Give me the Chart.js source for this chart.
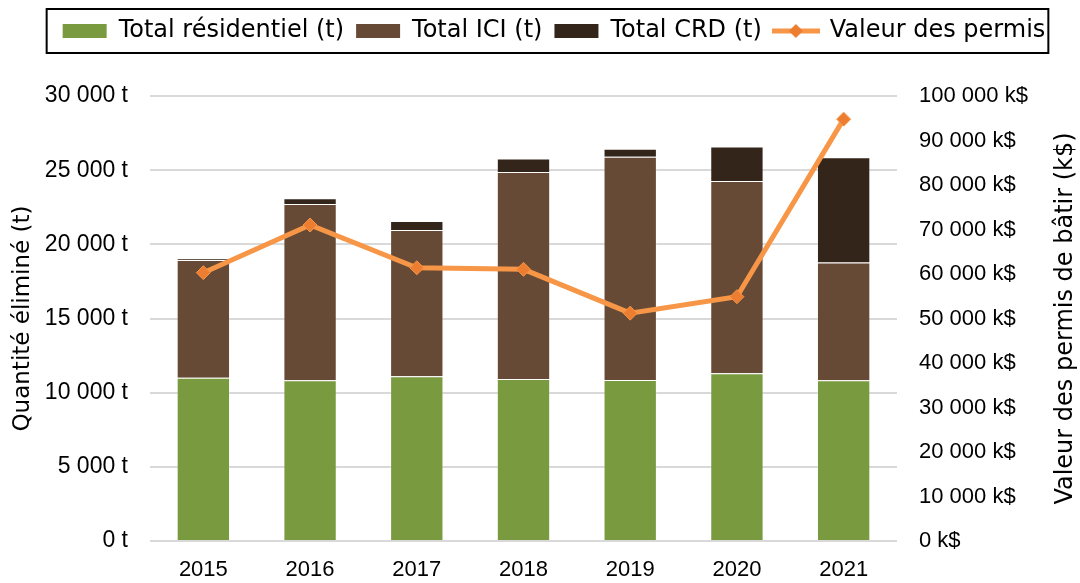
<!DOCTYPE html>
<html>
<head>
<meta charset="utf-8">
<script src="https://cdn.jsdelivr.net/npm/chart.js@4.4.1/dist/chart.umd.min.js"></script>
<style>
  html, body { margin: 0; padding: 0; background: #fff; }
  #wrap { width: 1080px; height: 583px; }
</style>
</head>
<body>
<div id="wrap"><canvas id="chart" width="1080" height="583"></canvas></div>
<script>
// values
const years = ["2015", "2016", "2017", "2018", "2019", "2020", "2021"];
const residentiel = [11000, 10840, 11100, 10920, 10860, 11310, 10840];
const ici = [7950, 11880, 9870, 13960, 15050, 12960, 7930];
const crd = [100, 390, 610, 900, 540, 2320, 7100];
const permis = [60300, 71000, 61400, 61050, 51200, 54900, 94800];

const GREEN = "#7A9A40", BROWN = "#674A36", DARK = "#33251A";
const LINE = "#F79646", MARK = "#ED7D31";
const TICK_FONT = "'Liberation Sans', Arial, sans-serif";
const TITLE_FONT = "'DejaVu Sans', Verdana, sans-serif";
const LEGEND_SHIFT = 14;

const fmt = (v) => String(v).replace(/\B(?=(\d{3})+(?!\d))/g, " ");

// legend symbol for the line series: line with a diamond
function lineSymbol() {
  const c = document.createElement("canvas");
  c.width = 48; c.height = 16;
  const g = c.getContext("2d");
  g.strokeStyle = LINE; g.lineWidth = 5;
  g.beginPath(); g.moveTo(0, 8); g.lineTo(48, 8); g.stroke();
  g.fillStyle = MARK;
  g.beginPath(); g.moveTo(24, 1); g.lineTo(31, 8); g.lineTo(24, 15); g.lineTo(17, 8); g.closePath(); g.fill();
  return c;
}

const legendSpace = {
  id: "legendSpace",
  beforeInit(chart) {
    const lg = chart.legend;
    const fit = lg.fit, draw = lg.draw;
    lg.fit = function () { fit.call(this); this.height = 89; };
    lg.draw = function () {
      this.ctx.save(); this.ctx.translate(LEGEND_SHIFT, 0);
      draw.call(this);
      this.ctx.restore();
    };
  }
};

const legendBorder = {
  id: "legendBorder",
  afterDraw(chart) {
    const hb = chart.legend.legendHitBoxes;
    if (!hb || !hb.length) return;
    const l = Math.min(...hb.map((h) => h.left)) - 16 + LEGEND_SHIFT;
    const r = Math.max(...hb.map((h) => h.left + h.width)) + 3 + LEGEND_SHIFT;
    const mid = hb[0].top + hb[0].height / 2;
    const ctx = chart.ctx;
    ctx.save(); ctx.strokeStyle = "#000"; ctx.lineWidth = 2;
    ctx.strokeRect(l, mid - 22, r - l, 44);
    ctx.restore();
  }
};

// right title reads bottom-to-top like the left one
const rightTitle = {
  id: "rightTitle",
  afterDraw(chart) {
    const a = chart.chartArea, ctx = chart.ctx;
    ctx.save();
    ctx.translate(1066, (a.top + a.bottom) / 2);
    ctx.rotate(-Math.PI / 2);
    ctx.font = "24px " + TITLE_FONT;
    ctx.fillStyle = "#000"; ctx.textAlign = "center"; ctx.textBaseline = "middle";
    ctx.fillText("Valeur des permis de bâtir (k$)", 0, 0);
    ctx.restore();
  }
};

const sym = lineSymbol();

new Chart(document.getElementById("chart"), {
  data: {
    labels: years,
    datasets: [
      { type: "line", label: "Valeur des permis", data: permis, yAxisID: "y1", order: 0,
        borderColor: LINE, borderWidth: 5, pointStyle: "rectRot", pointRadius: 7,
        pointBackgroundColor: MARK, pointBorderColor: LINE, pointBorderWidth: 1, tension: 0 },
      { type: "bar", label: "Total résidentiel (t)", data: residentiel, backgroundColor: GREEN, order: 1 },
      { type: "bar", label: "Total ICI (t)", data: ici, backgroundColor: BROWN, order: 1 },
      { type: "bar", label: "Total CRD (t)", data: crd, backgroundColor: DARK, order: 1 }
    ]
  },
  options: {
    responsive: false,
    animation: false,
    layout: { padding: { top: 7 } },
    datasets: { bar: { barPercentage: 0.5, categoryPercentage: 1, borderWidth: 1, borderColor: "rgba(255,255,255,0.2)" } },
    plugins: {
      tooltip: { enabled: false },
      legend: {
        position: "top",
        labels: {
          color: "#000", font: { family: TITLE_FONT, size: 24 }, padding: 12,
          usePointStyle: true, pointStyleWidth: 44, boxHeight: 14,
          generateLabels(chart) {
            const order = [1, 2, 3, 0];
            return order.map((i) => {
              const ds = chart.data.datasets[i];
              return {
                text: ds.label, datasetIndex: i, lineWidth: 0,
                fillStyle: ds.backgroundColor, strokeStyle: ds.backgroundColor,
                pointStyle: ds.type === "line" ? sym : "rect", fontColor: "#000"
              };
            });
          }
        }
      }
    },
    scales: {
      x: {
        stacked: true,
        grid: { display: false },
        border: { display: false },
        ticks: { color: "#000", font: { family: TICK_FONT, size: 22 }, padding: 8 },
        afterFit(s) { s.height = 42; }
      },
      y: {
        stacked: true, min: 0, max: 30000,
        ticks: { stepSize: 5000, color: "#000", font: { family: TICK_FONT, size: 23 }, padding: 22,
          callback: (v) => fmt(v) + " t" },
        grid: { color: "#d9d9d9", lineWidth: 2, drawTicks: false },
        border: { display: false },
        title: { display: true, text: "Quantité éliminé (t)", color: "#000",
          font: { family: TITLE_FONT, size: 23 }, padding: { top: 9, bottom: 0 } },
        afterFit(s) { s.width = 150; }
      },
      y1: {
        position: "right", min: 0, max: 100000,
        ticks: { stepSize: 10000, color: "#000", font: { family: TICK_FONT, size: 22 }, padding: 22,
          callback: (v) => fmt(v) + " k$" },
        grid: { display: false, drawTicks: false },
        border: { display: false },
        afterFit(s) { s.width = 183; }
      }
    }
  },
  plugins: [legendSpace, legendBorder, rightTitle]
});
</script>
</body>
</html>
